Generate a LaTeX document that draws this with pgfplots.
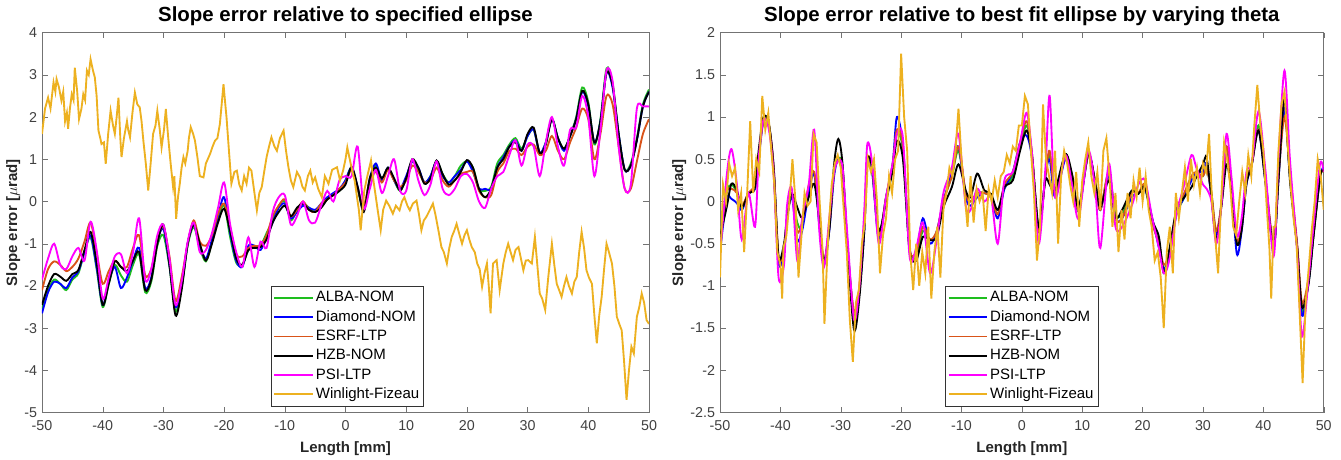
\documentclass[border=0pt]{standalone}
\usepackage{fontspec}
\setmainfont{Liberation Sans}
\usepackage{pgfplots}
\usepackage{pgfplotstable}
\pgfplotsset{compat=1.18}

\definecolor{albac}{RGB}{30,190,30}
\definecolor{diamc}{RGB}{0,0,255}
\definecolor{esrfc}{RGB}{217,83,25}
\definecolor{psic}{RGB}{255,0,255}
\definecolor{winc}{RGB}{237,177,32}

% left panel: smooth series, 1 mm grid
\pgfplotstableread{
x alba diam esrf hzb psi
-50 -2.55 -2.65 -2.1 -2.45 -1.85
-49 -2.1 -2.15 -1.6 -2.0 -1.35
-48 -1.85 -1.9 -1.42 -1.72 -1.0
-47 -1.95 -1.95 -1.5 -1.78 -1.5
-46 -2.1 -2.05 -1.65 -1.88 -1.6
-45 -1.85 -1.8 -1.55 -1.72 -1.3
-44 -1.7 -1.65 -1.35 -1.62 -1.1
-43 -1.2 -1.2 -0.95 -1.15 -1.4
-42 -0.85 -0.8 -0.5 -0.72 -0.48
-41 -1.6 -1.55 -1.2 -1.45 -1.15
-40 -2.5 -2.45 -1.95 -2.45 -2.3
-39 -1.95 -1.9 -1.65 -1.95 -1.8
-38 -1.5 -1.55 -1.4 -1.42 -1.3
-37 -1.75 -2.05 -1.55 -1.55 -1.25
-36 -1.9 -1.8 -1.55 -1.65 -1.7
-35 -1.5 -1.4 -1.1 -1.4 -1.2
-34 -1.25 -1.1 -0.8 -1.2 -0.4
-33 -2.15 -2.05 -1.75 -2.1 -1.85
-32 -1.9 -1.8 -1.6 -1.85 -1.6
-31 -1.05 -0.95 -0.9 -1.0 -0.8
-30 -0.8 -0.65 -0.6 -0.55 -0.55
-29 -1.55 -1.5 -1.3 -1.5 -1.35
-28 -2.6 -2.5 -2.35 -2.7 -2.45
-27 -2.05 -2.0 -1.8 -2.1 -1.9
-26 -1.05 -1.0 -1.0 -1.0 -0.95
-25 -0.6 -0.55 -0.45 -0.55 -0.5
-24 -1.1 -1.05 -0.95 -1.0 -1.2
-23 -1.42 -1.35 -1.05 -1.4 -1.15
-22 -0.95 -0.9 -0.8 -1.0 -0.75
-21 -0.4 -0.35 -0.3 -0.5 -0.15
-20 -0.1 0.1 -0.05 -0.17 0.45
-19 -0.85 -0.75 -0.6 -0.7 -0.55
-18 -1.45 -1.4 -1.25 -1.35 -1.2
-17 -1.5 -1.55 -1.3 -1.5 -1.55
-16 -1.15 -1.05 -1.1 -1.15 -0.85
-15 -1.05 -1.05 -1.05 -1.1 -1.55
-14 -1.05 -1.15 -1.05 -1.08 -0.95
-13 -0.75 -0.85 -0.8 -0.9 -1.1
-12 -0.45 -0.5 -0.35 -0.5 -0.25
-11 -0.1 -0.15 -0.1 -0.25 0.1
-10 0.0 -0.05 0.05 -0.1 0.15
-9 -0.45 -0.4 -0.35 -0.35 -0.55
-8 -0.2 -0.25 -0.2 -0.15 -0.35
-7 -0.05 -0.1 0.0 -0.05 0.0
-6 -0.15 -0.15 -0.2 -0.2 -0.45
-5 -0.25 -0.2 -0.25 -0.25 -0.5
-4 -0.1 -0.05 -0.05 -0.15 -0.1
-3 0.05 0.1 0.05 0.05 0.25
-2 0.15 0.2 0.15 0.15 0.0
-1 0.25 0.3 0.3 0.25 0.5
0 0.5 0.5 0.45 0.4 0.6
1 0.8 0.8 0.75 0.82 0.6
2 0.3 0.35 0.3 0.35 1.3
3 -0.2 -0.2 -0.1 -0.25 -0.15
4 0.5 0.55 0.5 0.55 0.3
5 0.85 0.9 0.7 0.8 0.75
6 0.5 0.5 0.45 0.55 0.2
7 0.8 0.8 0.75 0.8 0.6
8 0.5 0.5 0.5 0.55 1.0
9 0.25 0.3 0.35 0.26 0.25
10 0.55 0.6 0.5 0.55 0.25
11 0.95 0.95 0.85 1.0 1.0
12 0.75 0.8 0.7 0.8 0.5
13 0.45 0.45 0.45 0.42 0.15
14 0.6 0.6 0.5 0.55 0.4
15 0.95 0.95 0.8 0.97 0.95
16 0.65 0.6 0.5 0.65 0.3
17 0.45 0.45 0.35 0.4 0.15
18 0.6 0.6 0.5 0.5 0.3
19 0.85 0.75 0.65 0.7 0.6
20 0.95 0.95 0.7 0.98 0.65
21 0.8 0.7 0.7 0.8 0.45
22 0.3 0.3 0.25 0.3 0.0
23 0.25 0.3 0.1 0.1 -0.15
24 0.35 0.3 0.15 0.3 0.3
25 0.9 0.8 0.7 0.8 0.6
26 1.1 1.05 0.9 1.0 0.7
27 1.35 1.3 1.2 1.3 1.1
28 1.5 1.45 1.25 1.4 1.45
29 1.25 1.2 1.1 1.2 0.85
30 1.55 1.55 1.3 1.6 1.35
31 1.7 1.7 1.35 1.75 1.3
32 1.15 1.15 1.1 1.15 0.6
33 1.4 1.4 1.2 1.35 1.4
34 1.95 1.95 1.55 1.95 2.0
35 1.5 1.5 1.2 1.5 1.3
36 1.25 1.2 1.0 1.25 0.85
37 1.55 1.55 1.4 1.55 1.7
38 2.0 1.95 1.75 1.95 1.75
39 2.7 2.6 2.2 2.62 2.5
40 2.35 2.25 1.95 2.3 2.0
41 1.35 1.4 1.0 1.4 0.6
42 1.95 1.9 1.6 1.9 1.7
43 3.15 3.05 2.5 3.05 3.1
44 2.8 2.7 2.3 2.75 2.85
45 1.6 1.6 1.3 1.6 1.3
46 0.75 0.75 0.3 0.75 0.3
47 0.9 0.85 0.3 0.85 0.4
48 1.5 1.45 0.95 1.45 2.2
49 2.3 2.25 1.6 2.25 2.25
50 2.65 2.6 1.95 2.6 2.25
}\leftdata

% right panel: smooth series
\pgfplotstableread{
x alba diam esrf hzb psi
-50 -0.45 -0.6 -0.5 -0.42 -0.65
-48.9 0.1 0.03 0.1 -0.07 0.3
-48.1 0.2 0.03 0.15 0.21 0.62
-47.2 0.1 -0.02 0.1 0.13 0.2
-46.4 -0.1 -0.1 -0.05 -0.07 -0.45
-45.3 0.1 0.1 0.1 0.09 0.1
-44.2 0.15 0.15 0.2 0.17 -0.3
-43.6 0.55 0.5 0.55 0.6 0.5
-42.8 0.97 0.95 0.95 1.0 0.97
-41.9 0.9 0.9 0.9 0.92 0.85
-41.1 0.35 0.4 0.4 0.37 0.3
-40.3 -0.7 -0.72 -0.65 -0.66 -0.9
-39.4 -0.55 -0.6 -0.6 -0.5 -0.75
-38.9 -0.2 -0.2 -0.2 -0.19 -0.05
-38.1 0.1 0.05 0.1 0.09 0.15
-37.2 -0.25 -0.45 -0.35 -0.07 -0.7
-36.4 -0.3 -0.35 -0.25 -0.19 -0.2
-35.3 0.15 0.1 0.2 0.05 0.2
-34.4 0.32 0.33 0.35 0.21 0.85
-33.6 -0.2 -0.25 -0.2 -0.19 -0.3
-32.8 -0.72 -0.75 -0.7 -0.7 -0.78
-31.9 -0.3 -0.35 -0.3 -0.34 -0.2
-31.1 0.35 0.3 0.35 0.44 0.35
-30.4 0.52 0.5 0.48 0.74 0.48
-29.7 0.4 0.35 0.4 0.44 0.4
-28.9 -0.5 -0.5 -0.55 -0.54 -0.4
-27.8 -1.35 -1.4 -1.3 -1.52 -1.4
-26.9 -1.05 -1.05 -1.0 -1.13 -1.0
-26.1 -0.3 -0.35 -0.25 -0.34 -0.1
-25.6 0.45 0.45 0.5 0.48 0.68
-24.8 0.35 0.35 0.4 0.4 0.45
-23.7 -0.4 -0.45 -0.4 -0.34 -0.5
-22.5 0.05 0.05 0.05 0.0 0.05
-21.4 0.4 0.45 0.45 0.37 0.45
-20.7 0.8 1.0 0.85 0.72 0.8
-19.7 0.6 0.65 0.65 0.5 0.75
-18.6 -0.6 -0.55 -0.55 -0.58 -0.65
-17.5 -0.65 -0.6 -0.6 -0.7 -0.55
-16.4 -0.35 -0.2 -0.3 -0.42 -0.25
-15.2 -0.45 -0.5 -0.45 -0.46 -0.85
-14.1 -0.4 -0.35 -0.35 -0.42 -0.45
-13.0 0.0 0.0 0.0 -0.07 0.1
-11.6 0.3 0.35 0.3 0.17 0.4
-10.5 0.6 0.65 0.65 0.44 0.8
-9.3 0.1 0.05 0.1 0.13 -0.05
-8.5 0.0 -0.05 0.0 0.05 -0.1
-7.4 0.1 0.05 0.1 0.33 0.15
-6.2 0.1 0.1 0.1 0.13 0.0
-5.1 0.05 0.05 0.05 0.09 0.05
-4.0 -0.15 -0.2 -0.15 -0.1 -0.5
-2.9 0.15 0.15 0.2 0.17 0.25
-1.5 0.3 0.35 0.35 0.25 0.35
-0.3 0.65 0.7 0.7 0.6 0.7
0.8 0.9 0.78 0.95 0.84 1.05
1.7 0.55 0.5 0.55 0.52 0.55
2.8 -0.35 -0.35 -0.35 -0.3 -0.5
3.9 0.3 0.3 0.3 0.25 0.4
4.6 0.55 0.5 0.6 0.2 1.25
5.5 0.1 0.05 0.1 0.13 0.05
7.2 0.55 0.5 0.55 0.56 0.55
8.3 0.3 0.3 0.3 0.33 0.2
9.4 -0.1 -0.12 -0.1 -0.07 -0.2
11.0 0.55 0.55 0.55 0.56 0.6
12.2 0.2 0.2 0.2 0.21 0.1
13.0 -0.1 -0.1 -0.1 -0.07 -0.55
14.4 0.35 0.3 0.35 0.25 0.45
15.5 -0.15 -0.2 -0.2 -0.19 -0.3
16.6 -0.15 -0.2 -0.2 -0.1 -0.3
18.2 0.1 0.05 0.1 0.13 -0.05
19.3 0.1 0.1 0.1 0.09 0.2
20.4 0.15 0.15 0.2 0.17 0.25
21.6 -0.25 -0.2 -0.25 -0.22 -0.2
22.7 -0.5 -0.55 -0.5 -0.42 -0.55
23.5 -0.8 -0.8 -0.75 -0.85 -0.85
24.4 -0.6 -0.65 -0.6 -0.58 -0.7
25.6 -0.15 -0.15 -0.1 -0.1 -0.15
26.9 0.05 0.05 0.1 0.05 0.2
28.1 0.3 0.25 0.3 0.17 0.55
28.9 0.3 0.35 0.35 0.29 0.4
30.0 0.3 0.35 0.3 0.44 0.2
30.6 0.4 0.45 0.4 0.52 0.15
31.4 0.1 0.05 0.1 0.05 0.0
32.2 -0.4 -0.4 -0.35 -0.46 -0.5
33.1 0.0 0.0 0.0 -0.03 0.0
33.9 0.6 0.65 0.65 0.44 0.8
34.7 0.2 0.2 0.2 0.13 0.3
35.6 -0.5 -0.62 -0.45 -0.5 -0.4
36.4 -0.3 -0.35 -0.3 -0.34 -0.2
37.2 0.25 0.2 0.25 0.21 0.35
38.1 0.45 0.45 0.45 0.44 0.45
39.2 0.9 0.85 0.85 0.84 1.07
40.3 0.3 0.25 0.3 0.25 0.4
41.7 -0.55 -0.55 -0.5 -0.54 -0.65
42.5 0.3 0.25 0.3 0.25 0.5
43.5 1.15 1.1 1.0 1.23 1.55
44.4 0.3 0.3 0.35 0.25 0.5
45.6 -0.55 -0.55 -0.5 -0.54 -0.6
46.4 -1.3 -1.35 -1.2 -1.25 -1.6
47.5 -0.95 -0.95 -0.9 -0.97 -0.9
48.3 -0.4 -0.4 -0.4 -0.42 -0.3
49.4 0.3 0.3 0.3 0.29 0.45
50 0.35 0.4 0.35 0.37 0.35
}\rightdata

\pgfplotsset{
  mlab/.style={
    scale only axis, height=266pt,
    xmin=-50, xmax=50, xtick distance=10,
    tick align=inside, major tick length=4pt,
    axis line style={black!55}, tick style={black!55},
    ticklabel style={font=\fontsize{10}{12}\selectfont, text=black!75},
    xticklabel style={yshift=-2pt},
    /pgf/number format/assume math mode=true,
    xlabel={Length [mm]}, ylabel={Slope error [$\mu$rad]},
    label style={font=\bfseries\fontsize{10.5}{12}\selectfont, text=black!85},
    xlabel style={yshift=-1pt},
    ylabel style={yshift=-4pt},
    title style={font=\bfseries\fontsize{14.3}{16}\selectfont, yshift=-4.5pt},
    legend cell align=left,
    legend style={at={(0.377,0.016)}, anchor=south west, draw=black!80,
      font=\fontsize{10.5}{13}\selectfont, inner sep=1.5pt,
      nodes={inner sep=1.5pt, text height=8pt, text depth=2.5pt}},
    legend image code/.code={\draw[##1, line width=1.3pt] (0pt,0pt) -- (27pt,0pt);},
    every axis plot/.append style={line width=1.3pt},
  }
}

\begin{document}
\begin{tikzpicture}
\path[use as bounding box] (-29.4pt,-32.6pt) rectangle (909.3pt,288.8pt);

\begin{axis}[mlab, at={(0pt,0pt)}, anchor=south west, width=424.9pt,
  ymin=-5, ymax=4, ytick distance=1,
  title={Slope error relative to specified ellipse}]
\addplot[albac, smooth] table[x=x, y=alba] {\leftdata};
\addplot[diamc, smooth] table[x=x, y=diam] {\leftdata};
\addplot[esrfc, smooth] table[x=x, y=esrf] {\leftdata};
\addplot[black, smooth] table[x=x, y=hzb] {\leftdata};
\addplot[psic, smooth] table[x=x, y=psi] {\leftdata};
\addplot[winc] coordinates {
(-50,1.6) (-49.5,2.2) (-49,2.46) (-48.6,2.2) (-48.1,2.82) (-47.8,2.6) (-47.6,2.9) (-47.2,2.7)
(-46.8,2.39) (-46.5,2.6) (-46.2,1.9) (-45.9,2.1) (-45.7,1.72) (-45.4,2.2) (-45.1,2.54) (-44.8,2.4)
(-44.6,3.17) (-44.2,2.6) (-43.9,1.95) (-43.5,2.2) (-43.2,2.54) (-42.9,2.4) (-42.6,3.1) (-42.3,3.0)
(-42,3.37) (-41.6,3.1) (-41.3,2.94) (-41,2.5) (-40.7,1.68) (-40.4,1.5) (-40.2,1.36) (-39.8,1.4)
(-39.5,0.89) (-39.1,1.6) (-38.7,2.15) (-38.3,1.8) (-38,1.6) (-37.7,2.0) (-37.4,2.46) (-37.1,1.5)
(-36.9,1.05) (-36.5,1.5) (-36,1.9) (-35.8,1.7) (-35.5,1.52) (-35.1,2.1) (-34.7,2.58) (-34.3,2.3)
(-33.9,2.23) (-33.6,1.9) (-33.3,1.44) (-32.9,0.9) (-32.5,0.26) (-32.1,0.9) (-31.7,1.6) (-31.3,1.8)
(-31,2.15) (-30.6,1.7) (-30.3,1.28) (-29.9,1.7) (-29.6,2.19) (-29.2,1.5) (-28.8,0.89) (-28.4,0.34)
(-28.2,0.6) (-27.9,-0.41) (-27.6,0.1) (-27.3,0.42) (-27,0.8) (-26.7,1.05) (-26.4,0.9) (-26,1.2)
(-25.8,1.5) (-25.5,1.76) (-25.1,1.6) (-24.8,1.44) (-24.4,1.05) (-24,0.6) (-23.4,0.57) (-23,0.9)
(-22.3,1.13) (-21.9,1.3) (-21.5,1.44) (-21.1,1.5) (-20.7,1.83) (-20.4,2.3) (-20.1,2.78) (-19.8,2.3)
(-19.6,1.99) (-19.2,1.2) (-18.8,0.42) (-18.3,0.7) (-17.9,0.73) (-17.5,0.4) (-17.1,0.26) (-16.7,0.6)
(-16.3,0.42) (-15.9,0.8) (-15.5,0.73) (-15,0.2) (-14.6,-0.21) (-14.2,0.2) (-13.8,0.34) (-13.4,0.7)
(-13,1.05) (-12.6,1.3) (-12.2,1.52) (-11.7,1.3) (-11.3,1.2) (-10.8,1.5) (-10.2,1.68) (-9.8,1.2)
(-9.4,0.81) (-9,0.5) (-8.6,0.34) (-8,0.7) (-7.5,0.57) (-7.1,0.35) (-6.7,0.26) (-6.2,0.6)
(-5.8,0.73) (-5.4,0.45) (-5,0.57) (-4.5,0.3) (-3.9,0.1) (-3.4,0.6) (-2.8,0.42) (-2.2,0.75)
(-1.4,0.81) (-0.9,0.5) (-0.4,0.73) (0,1.0) (0.3,1.28) (0.7,1.0) (1.1,0.73) (1.5,0.5)
(1.9,0.1) (2.2,-0.2) (2.5,-0.68) (2.8,-0.2) (3.1,0.26) (3.6,0.6) (4.2,0.97) (4.6,0.5)
(5,0.1) (5.4,-0.3) (5.8,-0.68) (6.2,-0.2) (6.7,0.02) (7.2,-0.1) (7.8,-0.29) (8.3,-0.1)
(8.9,-0.21) (9.3,0.0) (9.7,0.1) (10.2,-0.1) (10.6,-0.21) (11.1,-0.05) (11.7,0.02) (12.1,-0.3)
(12.5,-0.68) (12.9,-0.45) (13.3,-0.37) (13.9,-0.2) (14.4,-0.05) (14.8,-0.3) (15.3,-0.68) (15.8,-1.08)
(16.2,-1.2) (16.7,-1.47) (17.1,-1.1) (17.5,-0.84) (17.9,-0.7) (18.3,-0.53) (18.8,-0.8) (19.2,-1.0)
(19.6,-0.8) (20,-0.68) (20.4,-0.9) (20.8,-1.08) (21.3,-1.2) (21.7,-1.47) (22.1,-1.6) (22.5,-2.02)
(22.9,-1.7) (23.3,-1.47) (23.6,-2.0) (23.9,-2.65) (24.3,-1.47) (24.9,-1.39) (25.4,-2.1) (26,-1.47)
(26.4,-1.2) (26.8,-1.0) (27.2,-1.2) (27.6,-1.39) (28,-1.15) (28.5,-1.08) (28.9,-1.35) (29.3,-1.63)
(29.7,-1.4) (30.1,-1.39) (30.7,-1.47) (31.2,-0.84) (31.6,-1.5) (32,-2.18) (32.4,-2.3) (32.9,-2.57)
(33.4,-1.8) (34,-1.0) (34.4,-1.5) (34.8,-1.95) (35.2,-2.1) (35.6,-2.26) (36,-2.0) (36.4,-1.79)
(36.8,-2.0) (37.3,-2.18) (37.7,-1.9) (38.1,-1.79) (38.5,-1.2) (38.9,-0.72) (39.3,-1.1) (39.7,-1.63)
(40.1,-1.8) (40.6,-1.95) (41,-2.7) (41.4,-3.36) (41.8,-2.7) (42.2,-2.26) (42.6,-1.6) (43,-1.0)
(43.4,-1.2) (43.9,-1.47) (44.3,-2.0) (44.7,-2.73) (45.1,-2.9) (45.5,-3.05) (45.9,-3.8) (46.3,-4.7)
(46.7,-4.0) (47.1,-3.44) (47.5,-3.6) (48,-2.73) (48.4,-2.5) (48.8,-2.18) (49.2,-2.4) (49.6,-2.81)
(50,-2.9)
};
\legend{ALBA-NOM, Diamond-NOM, ESRF-LTP, HZB-NOM, PSI-LTP, Winlight-Fizeau}
\end{axis}

\begin{axis}[mlab, at={(474.6pt,0pt)}, anchor=south west, width=422.6pt,
  ymin=-2.5, ymax=2, ytick distance=0.5,
  legend style={at={(0.373,0.016)}},
  title={Slope error relative to best fit ellipse by varying theta}]
\addplot[albac, smooth] table[x=x, y=alba] {\rightdata};
\addplot[diamc, smooth] table[x=x, y=diam] {\rightdata};
\addplot[esrfc, smooth] table[x=x, y=esrf] {\rightdata};
\addplot[black, smooth] table[x=x, y=hzb] {\rightdata};
\addplot[psic, smooth] table[x=x, y=psi] {\rightdata};
\addplot[winc] coordinates {
(-50,-0.9) (-49.5,0.2) (-49,0.0) (-48.5,0.45) (-48,0.3) (-47.5,0.4) (-47,-0.1) (-46.5,0.1)
(-46,-0.6) (-45.5,0.1) (-45,0.95) (-44.5,0.1) (-44,0.5) (-43.5,0.35) (-43,1.25) (-42.5,0.85)
(-42,1.05) (-41.5,0.6) (-41,0.2) (-40.5,-0.6) (-40,-0.75) (-39.7,-1.15) (-39.5,-0.55) (-39,-0.4)
(-38.5,0.0) (-38,0.5) (-37.5,0.0) (-37,-0.9) (-36.5,-0.4) (-36,0.1) (-35.5,-0.05) (-35,0.0)
(-34.5,0.8) (-34,0.7) (-33.5,0.0) (-33,-0.6) (-32.7,-1.45) (-32.3,-0.75) (-32,-0.3) (-31.5,0.2)
(-31,0.45) (-30.5,0.55) (-30,0.4) (-29.5,-0.1) (-29,-0.6) (-28.5,-1.4) (-28,-1.9) (-27.5,-1.2)
(-27,-1.05) (-26.5,-0.5) (-26,-0.25) (-25.5,0.5) (-25,0.35) (-24.5,0.5) (-24,0.0) (-23.5,-0.85)
(-23,-0.4) (-22.5,-0.2) (-22,0.3) (-21.5,0.1) (-21,0.5) (-20.5,0.6) (-20,1.75) (-19.5,1.0)
(-19,0.6) (-18.5,-0.6) (-18,-1.05) (-17.5,-0.5) (-17,-1.0) (-16.5,-0.6) (-16,-0.85) (-15.5,-0.3)
(-15,-1.15) (-14.5,-0.6) (-14,-0.3) (-13.5,-0.9) (-13,-0.1) (-12.5,0.1) (-12,0.4) (-11.5,0.3)
(-11,0.6) (-10.5,1.1) (-10,0.5) (-9.5,0.1) (-9,-0.3) (-8.5,0.3) (-8,-0.25) (-7.5,0.15)
(-7,0.0) (-6.5,0.1) (-6,-0.35) (-5.5,0.15) (-5,0.0) (-4.5,0.25) (-4,0.05) (-3.5,0.3)
(-3,0.35) (-2.5,0.55) (-2,0.45) (-1.5,0.65) (-1,0.6) (-0.5,0.9) (0,0.9) (0.5,1.25)
(1,1.15) (1.5,0.6) (2,0.1) (2.5,-0.7) (3,-0.3) (3.5,1.15) (4,0.5) (4.5,0.3)
(5,0.1) (5.5,0.6) (6,-0.5) (6.5,0.3) (7,0.6) (7.5,0.45) (8,0.2) (8.5,0.0)
(9,0.35) (9.5,-0.3) (10,0.25) (10.5,0.5) (11,0.7) (11.5,0.3) (12,0.1) (12.5,0.35)
(13,-0.1) (13.5,0.6) (14,0.75) (14.5,0.3) (15,-0.3) (15.5,0.1) (16,-0.6) (16.5,-0.1)
(17,-0.45) (17.5,0.1) (18,-0.2) (18.5,0.25) (19,0.05) (19.5,0.4) (20,0.0) (20.5,0.3)
(21,-0.1) (21.5,-0.3) (22,-0.7) (22.5,-0.6) (23,-0.9) (23.5,-1.5) (24,-0.6) (24.5,-0.3)
(25,-0.85) (25.5,0.1) (26,-0.2) (26.5,0.1) (27,0.4) (27.5,0.0) (28,0.5) (28.5,0.2)
(29,0.4) (29.5,0.1) (30,0.45) (30.5,0.35) (31,0.8) (31.5,0.0) (32,-0.4) (32.5,-0.85)
(33,0.0) (33.5,0.7) (34,0.5) (34.5,0.2) (35,-0.3) (35.5,-0.4) (36,0.0) (36.5,0.35)
(37,0.1) (37.5,0.55) (38,0.3) (38.5,0.9) (39,1.38) (39.5,0.9) (40,0.6) (40.5,0.0)
(41,-0.55) (41.3,-1.15) (41.7,-0.3) (42,-0.3) (42.5,0.6) (43,1.15) (43.5,1.3) (44,0.7)
(44.5,0.2) (45,-0.2) (45.5,-0.5) (46,-1.3) (46.5,-2.15) (47,-1.2) (47.5,-0.8) (48,-0.35)
(48.5,0.0) (49,0.5) (49.5,0.3) (50,-0.1)
};
\legend{ALBA-NOM, Diamond-NOM, ESRF-LTP, HZB-NOM, PSI-LTP, Winlight-Fizeau}
\end{axis}
\end{tikzpicture}
\end{document}
